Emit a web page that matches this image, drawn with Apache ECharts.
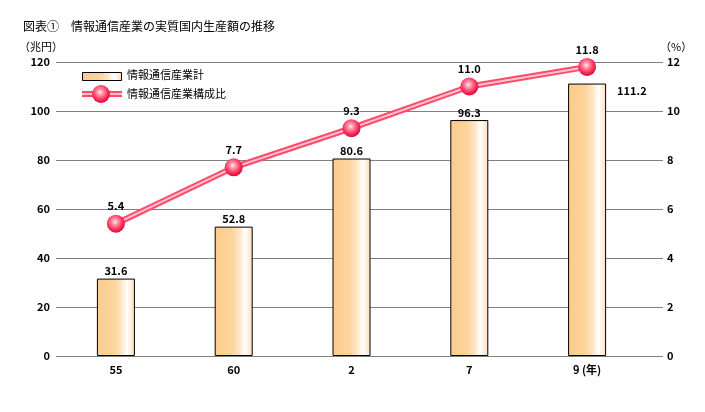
<!DOCTYPE html>
<html><head><meta charset="utf-8">
<script src="https://cdn.jsdelivr.net/npm/echarts@6/dist/echarts.min.js"></script>
<style>html,body{margin:0;padding:0;background:#fff}#c{width:705px;height:412px}</style>
</head><body><div id="c"></div>
<script>
var categories = ['55', '60', '2', '7', '9 (年)'];
var totalValues = [31.6, 52.8, 80.6, 96.3, 111.2];
var shareValues = [5.4, 7.7, 9.3, 11.0, 11.8];
var leftTicks = [0, 20, 40, 60, 80, 100, 120];
var rightTicks = [0, 2, 4, 6, 8, 10, 12];
var seriesNames = ['情報通信産業計', '情報通信産業構成比'];

var FONT = '"Noto Sans CJK JP", "Noto Sans", sans-serif';
var barGrad = new echarts.graphic.LinearGradient(0, 0, 1, 0, [
  {offset: 0, color: '#fdcb8c'}, {offset: 0.45, color: '#fdd49c'},
  {offset: 0.65, color: '#fee6c6'}, {offset: 0.8, color: '#ffffff'},
  {offset: 1, color: '#fddcb4'}]);
var dotGrad = new echarts.graphic.RadialGradient(0.45, 0.4, 0.6, [
  {offset: 0, color: '#fff0f3'}, {offset: 0.25, color: '#ff9aae'},
  {offset: 0.7, color: '#ff2f58'}, {offset: 1, color: '#d8083a'}]);

var chart = echarts.init(document.getElementById('c'));
chart.setOption({
  animation: false,
  textStyle: {fontFamily: FONT},
  grid: [
    {left: 56, right: 42, top: 62, bottom: 56},
    {left: 57, right: 59, top: 62, bottom: 56}
  ],
  xAxis: [
    {gridIndex: 0, type: 'value', show: false, min: 0, max: 1},
    {gridIndex: 1, type: 'category', data: categories,
     axisLine: {show: false}, axisTick: {show: false},
     axisLabel: {color: '#000', fontSize: 11, fontWeight: 'bold', margin: 8, fontFamily: FONT}}
  ],
  yAxis: [
    {gridIndex: 0, type: 'value', min: 0, max: 120, interval: 20, position: 'left',
     axisLine: {show: false}, axisTick: {show: false},
     axisLabel: {color: '#000', fontSize: 11, fontWeight: 'bold', margin: 6,
       formatter: function (v) { return leftTicks.indexOf(v) >= 0 ? String(v) : ''; }},
     splitLine: {show: true, lineStyle: {color: '#808080', width: 1}}},
    {gridIndex: 0, type: 'value', min: 0, max: 12, interval: 2, position: 'right',
     axisLine: {show: false}, axisTick: {show: false},
     axisLabel: {color: '#000', fontSize: 11, fontWeight: 'bold', margin: 4,
       formatter: function (v) { return rightTicks.indexOf(v) >= 0 ? String(v) : ''; }},
     splitLine: {show: false}},
    {gridIndex: 1, type: 'value', min: 0, max: 120, show: false},
    {gridIndex: 1, type: 'value', min: 0, max: 12, show: false}
  ],
  series: [
    {name: seriesNames[0], type: 'bar', xAxisIndex: 1, yAxisIndex: 2, data: totalValues.map(function (v, i) {
        var d = {value: v};
        if (i === totalValues.length - 1) {
          d.label = {position: [49, 2]};
        }
        return d;
      }),
     barWidth: 38,
     itemStyle: {color: barGrad, borderColor: '#000', borderWidth: 1},
     label: {show: true, position: 'top', distance: 2, color: '#000', fontSize: 11, fontWeight: 'bold',
       formatter: function (p) { return p.value.toFixed(1); }}},
    {name: seriesNames[1] + '_outer', type: 'line', xAxisIndex: 1, yAxisIndex: 3, data: shareValues,
     symbol: 'none', lineStyle: {color: '#ff4a6c', width: 6}, z: 3, silent: true},
    {name: seriesNames[1], type: 'line', xAxisIndex: 1, yAxisIndex: 3, data: shareValues,
     symbol: 'circle', symbolSize: 18,
     lineStyle: {color: '#ffc4ce', width: 2},
     itemStyle: {color: dotGrad, borderWidth: 0},
     label: {show: true, position: 'top', distance: 3, color: '#000', fontSize: 11, fontWeight: 'bold',
       formatter: function (p) { return p.value.toFixed(1); }},
     z: 4}
  ],
  graphic: [
    {type: 'text', left: 23, top: 20, style: {text: '図表①　情報通信産業の実質国内生産額の推移', fontSize: 12, fill: '#000', fontFamily: FONT}},
    {type: 'text', left: 19, top: 41, style: {text: '（兆円）', fontSize: 11, fill: '#000', fontFamily: FONT}},
    {type: 'text', left: 660, top: 41, style: {text: '（%）', fontSize: 11, fill: '#000', fontFamily: FONT}},
    {type: 'rect', shape: {x: 82.5, y: 72.5, width: 39, height: 8}, style: {fill: barGrad, stroke: '#000', lineWidth: 1}, z: 10},
    {type: 'text', left: 127, top: 69, style: {text: seriesNames[0], fontSize: 11, fill: '#000', fontFamily: FONT}, z: 10},
    {type: 'line', shape: {x1: 82, y1: 94, x2: 122, y2: 94}, style: {stroke: '#ff4a6c', lineWidth: 6}, z: 10},
    {type: 'line', shape: {x1: 82, y1: 94, x2: 122, y2: 94}, style: {stroke: '#ffc4ce', lineWidth: 2}, z: 10},
    {type: 'circle', shape: {cx: 101, cy: 94, r: 9}, style: {fill: dotGrad}, z: 11},
    {type: 'text', left: 127, top: 88, style: {text: seriesNames[1], fontSize: 11, fill: '#000', fontFamily: FONT}, z: 10}
  ]
});
</script></body></html>
